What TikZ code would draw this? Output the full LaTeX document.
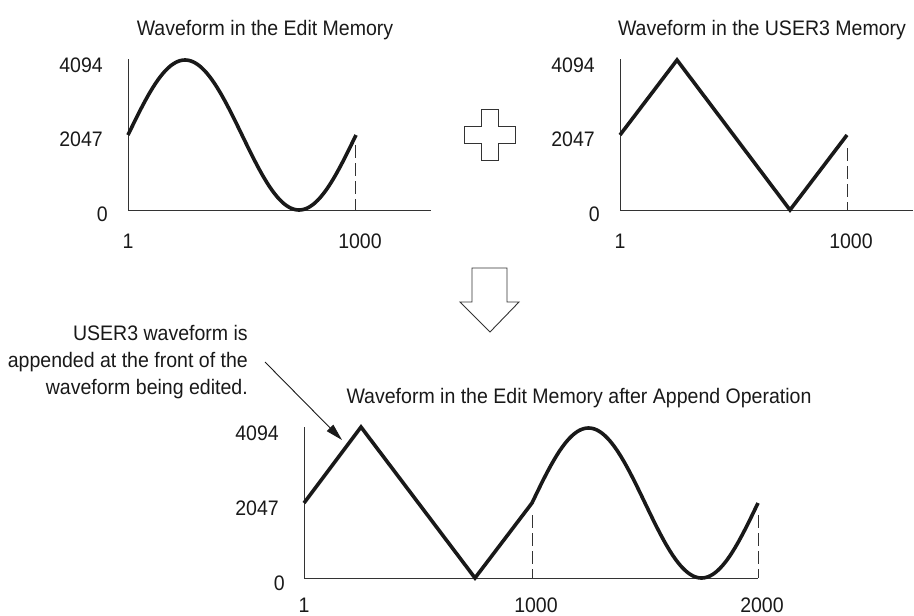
\documentclass[tikz,border=0pt]{standalone}
\usepackage{fontspec}
\setmainfont{Liberation Sans}[FakeStretch=0.93]
\usetikzlibrary{arrows.meta}

\begin{document}
\begin{tikzpicture}[
  x=1pt, y=-1pt,
  font=\fontsize{21}{27}\selectfont,
  wave/.style={line width=3.6pt, black!90},
  axl/.style={line width=0.9pt, black!80},
  guide/.style={line width=0.9pt, black!80, dash pattern=on 13pt off 5pt},
  lbl/.style={inner sep=0pt, text=black!90},
  ttl/.style={lbl, anchor=base},
  outl/.style={line width=0.9pt, black!80},
  arr/.style={-{Triangle[length=17pt,width=9pt]}, line width=0.9pt, black!90}
]
\useasboundingbox (0,0) rectangle (914,616);

%% ── titles ──────────────────────────────────────────────────────────────
\node[ttl] (tedit) at (265,35)  {Waveform in the Edit Memory};
\node[ttl] (tuser) at (762,35)  {Waveform in the USER3 Memory};
\node[ttl] (tapp)  at (579,403) {Waveform in the Edit Memory after Append Operation};

%% ── Edit memory (top left) ──────────────────────────────────────────────
\coordinate (eo)  at (128,210);
\coordinate (ey)  at (128,59);
\coordinate (ex)  at (431,210);
\coordinate (ed1) at (355,145);
\coordinate (ed0) at (355,210);
\draw[axl] (ey) -- (eo) -- (ex);
\draw[guide] (ed1) -- (ed0);
\draw[wave] plot[domain=0:228, samples=120] ({128+\x},{135-75*sin(\x/228*360)});
\node[lbl, anchor=east] (ehi)  at (103,65)  {4094};
\node[lbl, anchor=east] (emid) at (103,139) {2047};
\node[lbl, anchor=east] (elo)  at (108,214) {0};
\node[lbl] (ex1)  at (128,241) {1};
\node[lbl] (ex2)  at (360,241) {1000};

%% ── plus sign ───────────────────────────────────────────────────────────
\draw[outl] (481,109) -- (498,109) -- (498,126) -- (515,126) -- (515,143)
            -- (498,143) -- (498,160) -- (481,160) -- (481,143) -- (464,143)
            -- (464,126) -- (481,126) -- cycle;

%% ── USER3 memory (top right) ────────────────────────────────────────────
\coordinate (uo)  at (620,210);
\coordinate (uy)  at (620,59);
\coordinate (ux)  at (913,210);
\coordinate (ud1) at (847,148);
\coordinate (ud0) at (847,210);
\draw[axl] (uy) -- (uo) -- (ux);
\draw[guide] (ud1) -- (ud0);
\draw[wave] (620,135) -- (677,60) -- (790,210) -- (847,135);
\node[lbl, anchor=east] (uhi)  at (595,65)  {4094};
\node[lbl, anchor=east] (umid) at (595,139) {2047};
\node[lbl, anchor=east] (ulo)  at (600,214) {0};
\node[lbl] (ux1)  at (620,241) {1};
\node[lbl] (ux2)  at (851,241) {1000};

%% ── down arrow ──────────────────────────────────────────────────────────
\draw[outl] (472,268) -- (507,268) -- (507,302) -- (519,302) -- (490,332)
            -- (460,302) -- (472,302) -- cycle;

%% ── after append (bottom) ───────────────────────────────────────────────
\coordinate (ao)  at (304,578);
\coordinate (ay)  at (304,427);
\coordinate (ax)  at (758,578);
\coordinate (ad1) at (532,515);
\coordinate (ad0) at (532,578);
\coordinate (ad2) at (758,515);
\draw[axl] (ay) -- (ao) -- (ax);
\draw[guide] (ad1) -- (ad0);
\draw[guide] (ad2) -- (ax);
\draw[wave] (304,503) -- (361,427) -- (475,578) -- (532,503)
            plot[domain=0:226, samples=120] ({532+\x},{503-75*sin(\x/226*360)});
\node[lbl, anchor=east] (ahi)  at (279,433) {4094};
\node[lbl, anchor=east] (amid) at (279,508) {2047};
\node[lbl, anchor=east] (alo)  at (285,583) {0};
\node[lbl] (ax1) at (304,605) {1};
\node[lbl] (ax2) at (536,605) {1000};
\node[lbl] (ax3) at (762,605) {2000};

%% ── annotation ──────────────────────────────────────────────────────────
\node[lbl, anchor=north east, align=right] (note) at (248,325)
  {USER3 waveform is\\ appended at the front of the\\ waveform being edited.};
\coordinate (tail) at (265,362);
\coordinate (hit)  at (342,440);
\draw[arr] (tail) -- (hit);

\end{tikzpicture}
\end{document}
